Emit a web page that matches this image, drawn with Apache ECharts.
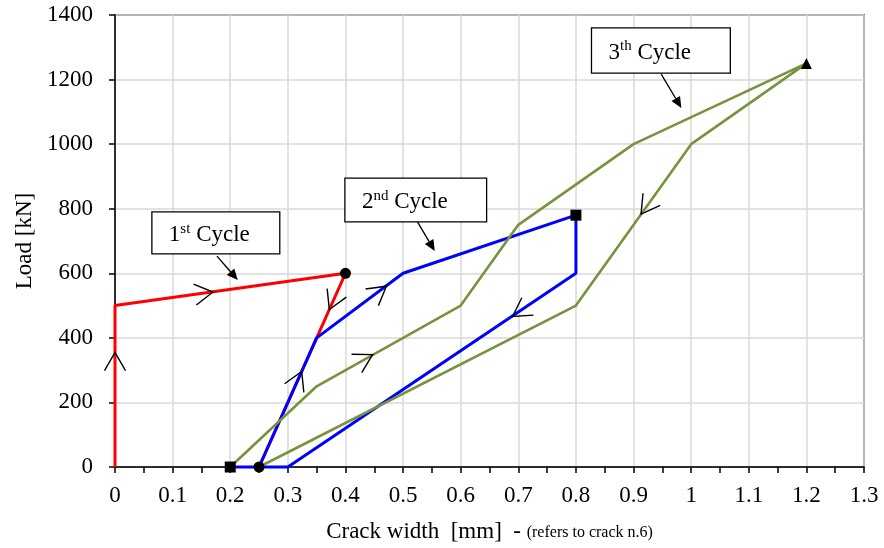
<!DOCTYPE html>
<html>
<head>
<meta charset="utf-8">
<script src="https://cdn.jsdelivr.net/npm/echarts@6/dist/echarts.min.js"></script>
<style>
  html, body { margin: 0; padding: 0; background: #fff; }
  #chart { width: 884px; height: 548px; }
</style>
</head>
<body>
<div id="chart"></div>
<script>
// Load vs crack width, three loading cycles (crack n.6)
const cycle1Width = [0, 0, 0.4, 0.25];
const cycle1Load  = [0, 500, 600, 0];
const cycle1Marks = ['none', 'none', 'circle', 'circle'];

const cycle2Width = [0.25, 0.35, 0.5, 0.8, 0.8, 0.3, 0.2];
const cycle2Load  = [0, 400, 600, 780, 600, 0, 0];
const cycle2Marks = ['none', 'none', 'none', 'rect', 'none', 'none', 'rect'];

const cycle3Width = [0.2, 0.35, 0.6, 0.7, 0.9, 1.2, 1.0, 0.8, 0.25];
const cycle3Load  = [0, 250, 500, 750, 1000, 1250, 1000, 500, 0];
const cycle3Marks = ['none', 'none', 'none', 'none', 'none', 'triangle', 'none', 'none', 'none'];

const xTickLabels = ['0', '0.1', '0.2', '0.3', '0.4', '0.5', '0.6', '0.7', '0.8', '0.9', '1', '1.1', '1.2', '1.3'];
const yTickLabels = ['0', '200', '400', '600', '800', '1000', '1200', '1400'];

// Direction chevrons: tip (width, load) and a point further along the path
const chevronTipWidth  = [0,    0.17,  0.372, 0.324, 0.471, 0.447, 0.69, 0.913];
const chevronTipLoad   = [355,  542,   488,   296,   560,   348,   466,  783];
const chevronToWidth   = [0,    0.4,   0.25,  0.35,  0.5,   0.6,   0.3,  0.8];
const chevronToLoad    = [500,  600,   0,     400,   600,   500,   0,    500];

// Cycle call-outs: box corners and pointer (width, load)
const calloutNumber = ['1', '2', '3'];
const calloutSuffix = ['st', 'nd', 'th'];
const calloutLeft   = [0.064, 0.399, 0.827];
const calloutRight  = [0.286, 0.645, 1.068];
const calloutTop    = [790, 895, 1360];
const calloutBottom = [660, 759, 1220];
const pointerFromW  = [0.177, 0.525, 0.948];
const pointerFromL  = [653, 759, 1217];
const pointerToW    = [0.213, 0.555, 0.983];
const pointerToL    = [579, 669, 1112];

const FONT = '"Liberation Serif", "Times New Roman", serif';

function lineData(xs, ys, marks) {
  return xs.map((x, i) => ({ value: [x, ys[i]], symbol: marks[i] }));
}

function cycleSeries(name, xs, ys, marks, color, width) {
  return {
    name: name,
    type: 'line',
    data: lineData(xs, ys, marks),
    showSymbol: true,
    symbolSize: 11,
    clip: false,
    itemStyle: { color: '#000' },
    lineStyle: { color: color, width: width },
    emphasis: { disabled: true },
    animation: false
  };
}

const chevronData = chevronTipWidth.map((x, i) => [x, chevronTipLoad[i], chevronToWidth[i], chevronToLoad[i]]);
const calloutData = calloutNumber.map((n, i) => [calloutLeft[i], calloutTop[i], calloutRight[i], calloutBottom[i],
  pointerFromW[i], pointerFromL[i], pointerToW[i], pointerToL[i]]);

const chart = echarts.init(document.getElementById('chart'), null, { renderer: 'canvas' });

chart.setOption({
  animation: false,
  backgroundColor: '#fff',
  grid: {
    left: 115, right: 20, top: 15, bottom: 80,
    show: true, borderColor: '#111', borderWidth: 1.5, backgroundColor: 'transparent'
  },
  xAxis: {
    type: 'value', min: 0, max: 1.3, interval: 0.1,
    name: '{a|Crack width  [mm]  - }{b|(refers to crack n.6)}',
    nameLocation: 'middle', nameGap: 53,
    nameTextStyle: {
      rich: {
        a: { fontFamily: FONT, fontSize: 23, color: '#000' },
        b: { fontFamily: FONT, fontSize: 16, color: '#000', padding: [3, 0, 0, 0] }
      }
    },
    axisLine: { show: true, onZero: false, lineStyle: { color: '#000', width: 1.5 } },
    axisTick: { show: true, inside: false, length: 6, lineStyle: { color: '#000', width: 1.5 } },
    minorTick: { show: true, splitNumber: 2, length: 6, lineStyle: { color: '#000', width: 1.5 } },
    splitLine: { show: true, lineStyle: { color: '#d9d9d9', width: 1.5 } },
    axisLabel: {
      fontFamily: FONT, fontSize: 23, color: '#000', margin: 17,
      formatter: (v, i) => xTickLabels[i]
    }
  },
  yAxis: {
    type: 'value', min: 0, max: 1400, interval: 200,
    name: 'Load [kN]', nameLocation: 'middle', nameGap: 78, nameRotate: 90,
    nameTextStyle: { fontFamily: FONT, fontSize: 23, color: '#000' },
    axisLine: { show: true, onZero: false, lineStyle: { color: '#000', width: 1.5 } },
    axisTick: { show: true, inside: false, length: 6, lineStyle: { color: '#000', width: 1.5 } },
    splitLine: { show: true, lineStyle: { color: '#d9d9d9', width: 1.5 } },
    axisLabel: {
      fontFamily: FONT, fontSize: 23, color: '#000', margin: 22,
      formatter: (v, i) => yTickLabels[i]
    }
  },
  series: [
    cycleSeries('1st Cycle', cycle1Width, cycle1Load, cycle1Marks, '#ff0000', 3),
    cycleSeries('2nd Cycle', cycle2Width, cycle2Load, cycle2Marks, '#0000ff', 3),
    cycleSeries('3th Cycle', cycle3Width, cycle3Load, cycle3Marks, '#77933c', 2.6),
    {
      name: 'direction',
      type: 'custom',
      data: chevronData,
      clip: false,
      z: 5,
      silent: true,
      renderItem: function (params, api) {
        const tip = api.coord([api.value(0), api.value(1)]);
        const to = api.coord([api.value(2), api.value(3)]);
        const dx = to[0] - tip[0], dy = to[1] - tip[1];
        const len = Math.sqrt(dx * dx + dy * dy) || 1;
        const ux = dx / len, uy = dy / len;
        const arm = 21, half = 30 * Math.PI / 180;
        const c = Math.cos(half), s = Math.sin(half);
        const a1 = [tip[0] - arm * (ux * c - uy * s), tip[1] - arm * (uy * c + ux * s)];
        const a2 = [tip[0] - arm * (ux * c + uy * s), tip[1] - arm * (uy * c - ux * s)];
        return {
          type: 'polyline',
          shape: { points: [a1, tip, a2] },
          style: { stroke: '#000', lineWidth: 1.4, fill: null }
        };
      }
    },
    {
      name: 'callouts',
      type: 'custom',
      data: calloutData,
      clip: false,
      z: 10,
      silent: true,
      renderItem: function (params, api) {
        const i = params.dataIndex;
        const tl = api.coord([api.value(0), api.value(1)]);
        const br = api.coord([api.value(2), api.value(3)]);
        const from = api.coord([api.value(4), api.value(5)]);
        const to = api.coord([api.value(6), api.value(7)]);
        const dx = to[0] - from[0], dy = to[1] - from[1];
        const len = Math.sqrt(dx * dx + dy * dy) || 1;
        const ux = dx / len, uy = dy / len;
        const headLen = 11, headHalf = 5;
        const base = [to[0] - ux * headLen, to[1] - uy * headLen];
        return {
          type: 'group',
          children: [
            {
              type: 'rect',
              shape: { x: tl[0], y: tl[1], width: br[0] - tl[0], height: br[1] - tl[1] },
              style: { fill: '#fff', stroke: '#000', lineWidth: 1.3 }
            },
            {
              type: 'text',
              x: tl[0] + 17,
              y: (tl[1] + br[1]) / 2 + 1,
              style: {
                text: '{n|' + calloutNumber[i] + '}{s|' + calloutSuffix[i] + '}{n| Cycle}',
                verticalAlign: 'middle',
                align: 'left',
                rich: {
                  n: { fontFamily: FONT, fontSize: 23, fill: '#000', lineHeight: 25, verticalAlign: 'bottom' },
                  s: { fontFamily: FONT, fontSize: 15, fill: '#000', lineHeight: 25, verticalAlign: 'top' }
                }
              }
            },
            {
              type: 'line',
              shape: { x1: from[0], y1: from[1], x2: base[0], y2: base[1] },
              style: { stroke: '#000', lineWidth: 1.3 }
            },
            {
              type: 'polygon',
              shape: {
                points: [to,
                  [base[0] - uy * headHalf, base[1] + ux * headHalf],
                  [base[0] + uy * headHalf, base[1] - ux * headHalf]]
              },
              style: { fill: '#000' }
            }
          ]
        };
      }
    }
  ]
});
</script>
</body>
</html>
